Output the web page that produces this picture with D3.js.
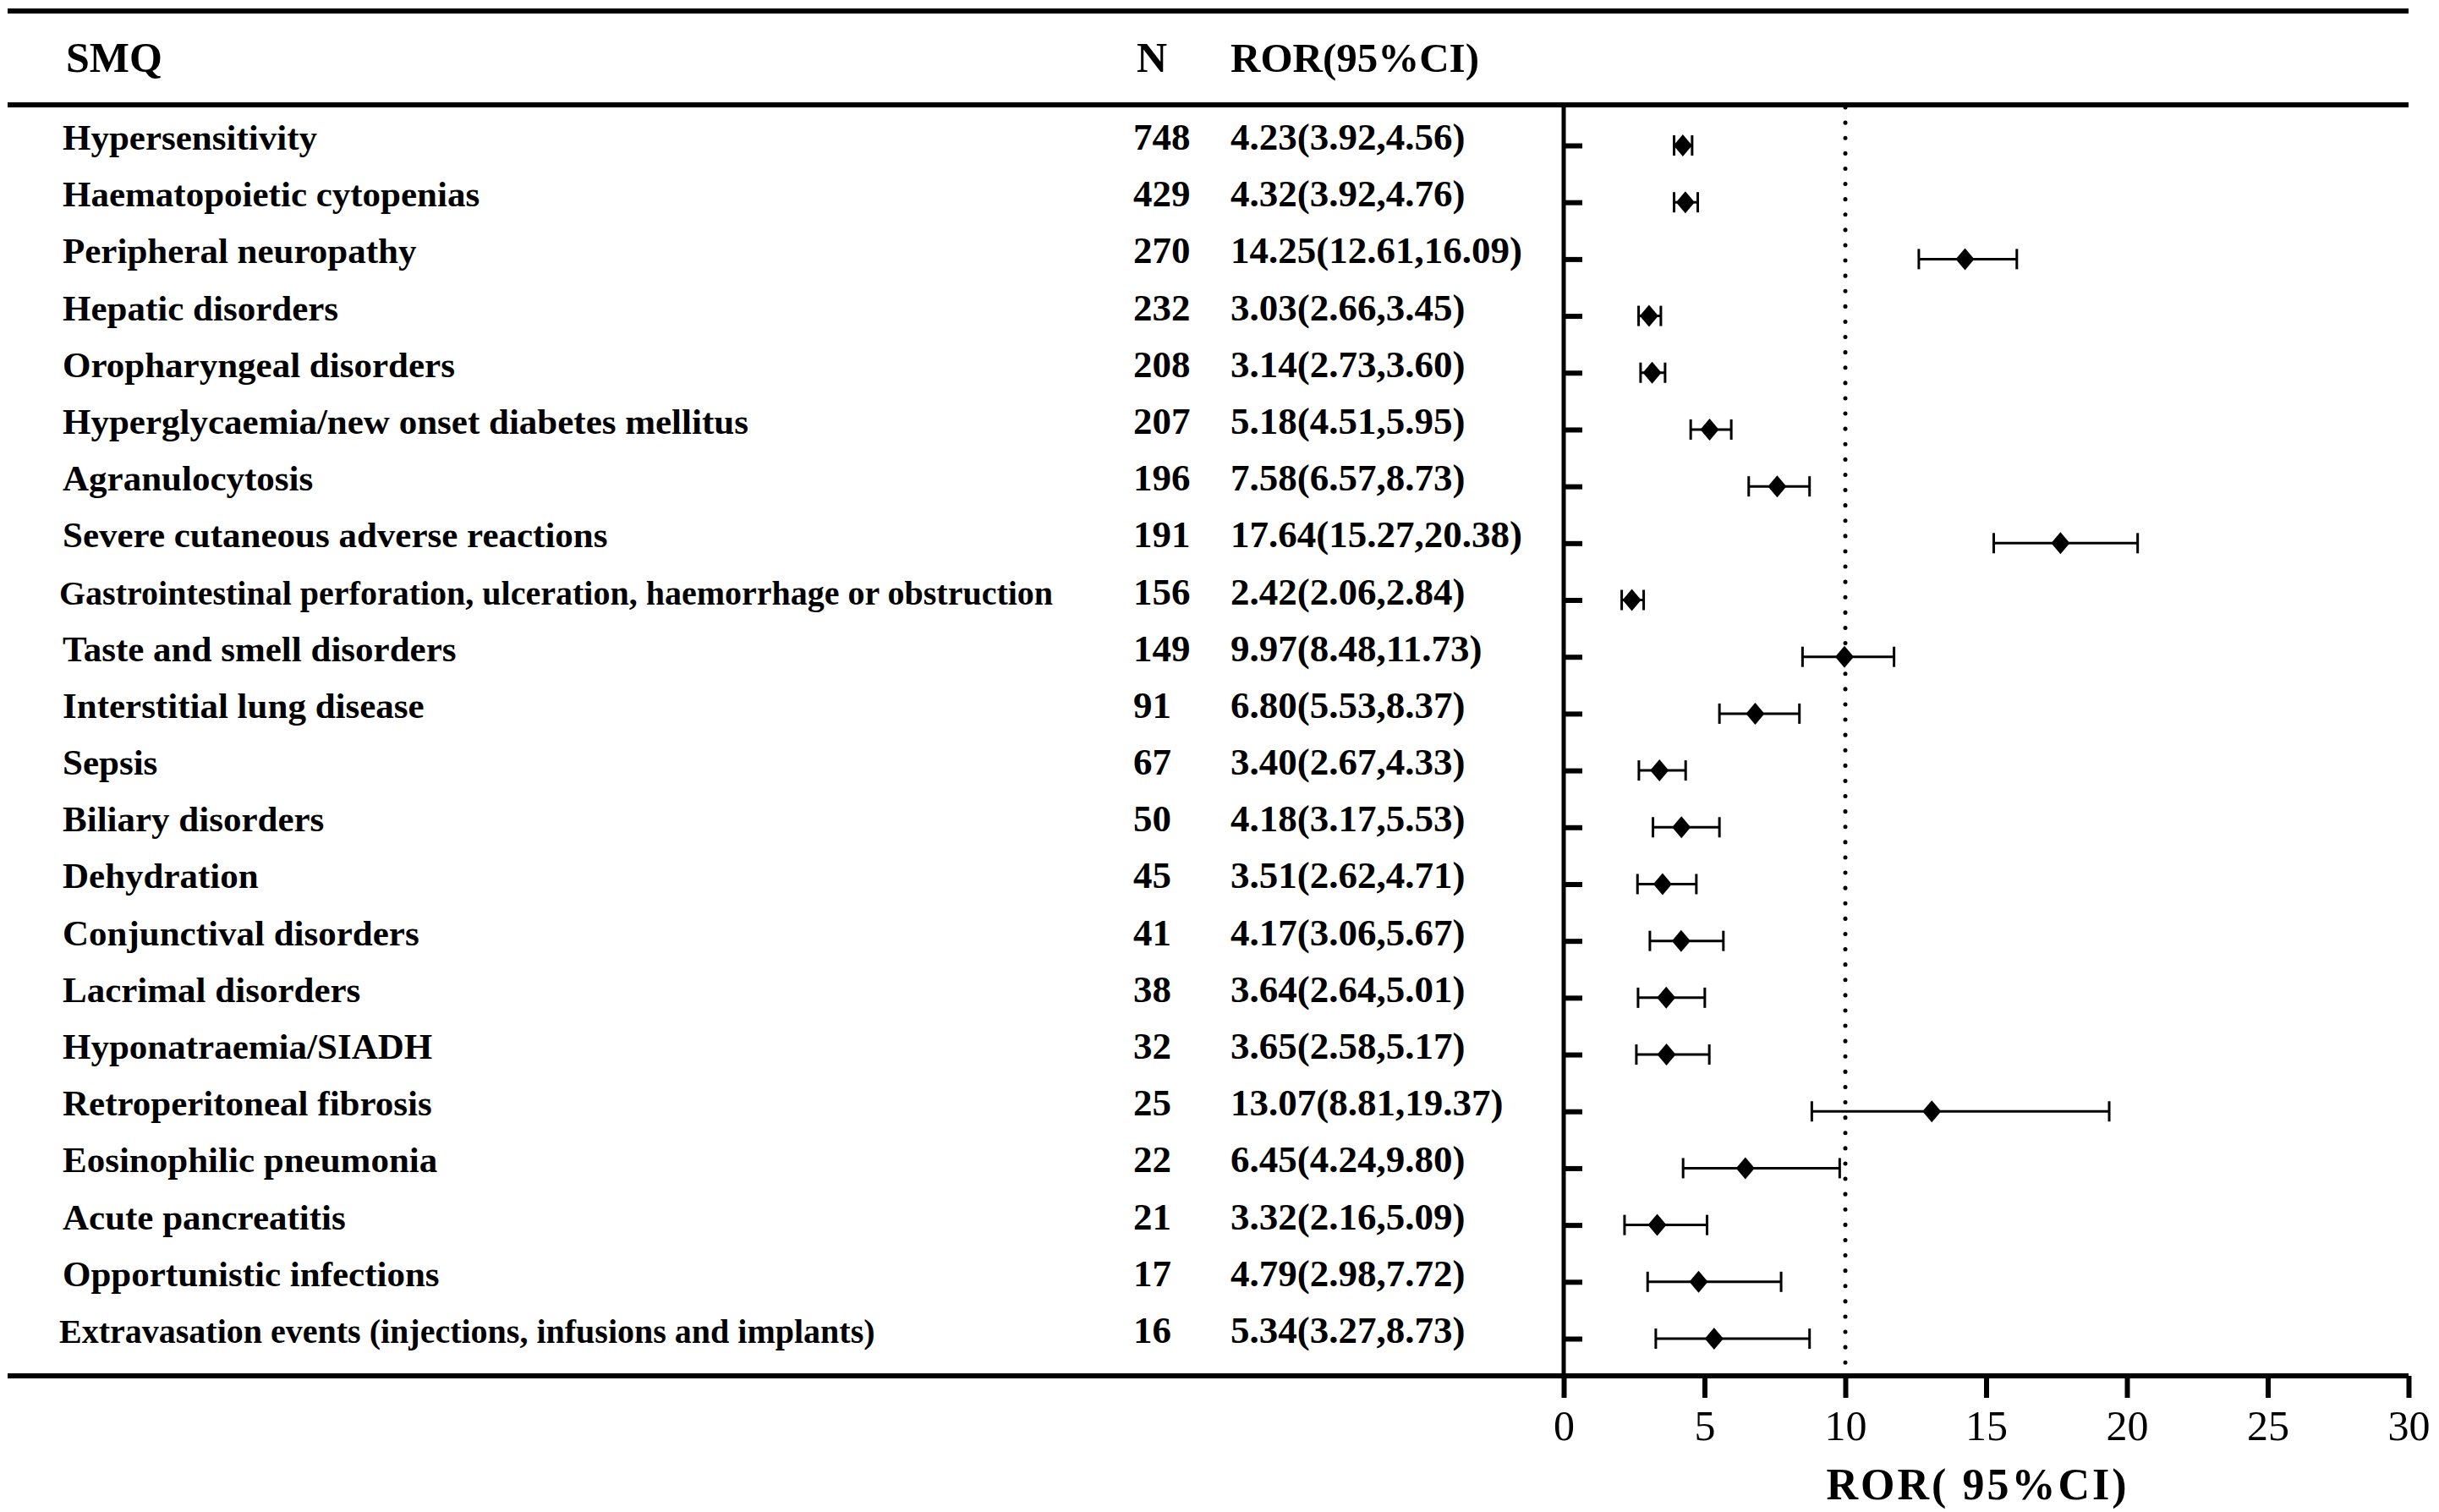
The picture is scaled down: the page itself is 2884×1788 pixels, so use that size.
<!DOCTYPE html>
<html>
<head>
<meta charset="utf-8">
<script src="https://cdn.jsdelivr.net/npm/d3@7"></script>
<style>
    body { margin: 0; background: #fff; }
    text { font-family: "Liberation Serif", "Times New Roman", serif; fill: #000; }
</style>
</head>
<body>
<div id="chart"></div>
<script>
// SMQ rows, top to bottom
const smq = [
    "Hypersensitivity",
    "Haematopoietic cytopenias",
    "Peripheral neuropathy",
    "Hepatic disorders",
    "Oropharyngeal disorders",
    "Hyperglycaemia/new onset diabetes mellitus",
    "Agranulocytosis",
    "Severe cutaneous adverse reactions",
    "Gastrointestinal perforation, ulceration, haemorrhage or obstruction",
    "Taste and smell disorders",
    "Interstitial lung disease",
    "Sepsis",
    "Biliary disorders",
    "Dehydration",
    "Conjunctival disorders",
    "Lacrimal disorders",
    "Hyponatraemia/SIADH",
    "Retroperitoneal fibrosis",
    "Eosinophilic pneumonia",
    "Acute pancreatitis",
    "Opportunistic infections",
    "Extravasation events (injections, infusions and implants)"
];
const counts = [748, 429, 270, 232, 208, 207, 196, 191, 156, 149, 91, 67, 50, 45, 41, 38, 32, 25, 22, 21, 17, 16];
const ror = [4.23, 4.32, 14.25, 3.03, 3.14, 5.18, 7.58, 17.64, 2.42, 9.97, 6.80, 3.40, 4.18, 3.51, 4.17, 3.64, 3.65, 13.07, 6.45, 3.32, 4.79, 5.34];
const lower = [3.92, 3.92, 12.61, 2.66, 2.73, 4.51, 6.57, 15.27, 2.06, 8.48, 5.53, 2.67, 3.17, 2.62, 3.06, 2.64, 2.58, 8.81, 4.24, 2.16, 2.98, 3.27];
const upper = [4.56, 4.76, 16.09, 3.45, 3.60, 5.95, 8.73, 20.38, 2.84, 11.73, 8.37, 4.33, 5.53, 4.71, 5.67, 5.01, 5.17, 19.37, 9.80, 5.09, 7.72, 8.73];
const xTicks = [0, 5, 10, 15, 20, 25, 30];
const refLine = 10;
const headers = ["SMQ", "N", "ROR(95%CI)"];
const xTitle = "ROR( 95%CI)";

// labels that got cut off by the table column in the original
const truncated = new Set(["Hyperglycaemia/new onset diabetes mellitus"]);
const smallLabels = new Set([
    "Gastrointestinal perforation, ulceration, haemorrhage or obstruction",
    "Extravasation events (injections, infusions and implants)"
]);

const W = 2884, H = 1788;
const tableLeft = 9, tableRight = 2848;
const topRule = 13, headRule = 124, bottomRule = 1627;
const plotLeft = 1849, plotRight = 2848;
const colLabel = 74, colN = 1340, colRor = 1455;

const rows = smq.map((name, i) => ({
    name, n: counts[i], ror: ror[i], lo: lower[i], hi: upper[i]
}));

const svg = d3.select("#chart").append("svg")
    .attr("width", W).attr("height", H);

const x = d3.scaleLinear().domain([0, 30]).range([plotLeft, plotRight]);
const y = d3.scalePoint().domain(smq).range([172, 1583]);

// horizontal rules of the table
[topRule, headRule, bottomRule].forEach(yy => {
    svg.append("line")
        .attr("x1", tableLeft).attr("x2", tableRight)
        .attr("y1", yy).attr("y2", yy)
        .attr("stroke", "#000").attr("stroke-width", 6);
});

// header
const headY = 85;
svg.append("text").attr("x", 78).attr("y", headY)
    .attr("font-size", 50).attr("font-weight", "bold").text(headers[0]);
svg.append("text").attr("x", 1344).attr("y", headY)
    .attr("font-size", 50).attr("font-weight", "bold").text(headers[1]);
svg.append("text").attr("x", colRor).attr("y", headY)
    .attr("font-size", 49).attr("font-weight", "bold").text(headers[2]);

// clip for truncated labels
svg.append("clipPath").attr("id", "labelClip")
    .append("rect").attr("x", 0).attr("y", 0).attr("width", 887).attr("height", H);

const fmt = d3.format(".2f");
const rowG = svg.append("g").selectAll("g").data(rows).enter().append("g");

rowG.append("text")
    .attr("x", d => smallLabels.has(d.name) ? colLabel - 4 : colLabel)
    .attr("y", d => y(d.name) + 5)
    .attr("font-size", d => smallLabels.has(d.name) ? 40 : 43)
    .attr("font-weight", "bold")
    .attr("clip-path", d => truncated.has(d.name) ? "url(#labelClip)" : null)
    .text(d => d.name);

rowG.append("text")
    .attr("x", colN).attr("y", d => y(d.name) + 5)
    .attr("font-size", 45).attr("font-weight", "bold")
    .text(d => d.n);

rowG.append("text")
    .attr("x", colRor).attr("y", d => y(d.name) + 5)
    .attr("font-size", 45).attr("font-weight", "bold")
    .text(d => `${fmt(d.ror)}(${fmt(d.lo)},${fmt(d.hi)})`);

// reference line at ROR = 10
svg.append("line")
    .attr("x1", x(refLine)).attr("x2", x(refLine))
    .attr("y1", headRule + 3).attr("y2", bottomRule)
    .attr("stroke", "#000").attr("stroke-width", 5)
    .attr("stroke-linecap", "round")
    .attr("stroke-dasharray", "0.1,18");

// y axis with ticks pointing right
const yAxis = svg.append("g")
    .attr("transform", `translate(${plotLeft},0)`)
    .call(d3.axisRight(y).tickSize(22).tickSizeOuter(0).tickFormat(""));
yAxis.select(".domain").remove();
yAxis.selectAll(".tick line").attr("stroke-width", 6);
svg.append("line")
    .attr("x1", plotLeft).attr("x2", plotLeft)
    .attr("y1", headRule).attr("y2", bottomRule)
    .attr("stroke", "#000").attr("stroke-width", 5);

// x axis
const xAxis = svg.append("g")
    .attr("transform", `translate(0,${bottomRule})`)
    .call(d3.axisBottom(x).tickValues(xTicks).tickSize(26).tickSizeOuter(0).tickPadding(14));
xAxis.select(".domain").remove();
xAxis.selectAll(".tick line").attr("stroke-width", 6);
xAxis.selectAll(".tick text")
    .attr("font-size", 50)
    .attr("font-family", "Liberation Serif, serif")
    .attr("fill", "#000");

svg.append("text")
    .attr("x", x(14.7)).attr("y", 1773)
    .attr("text-anchor", "middle")
    .attr("font-size", 52).attr("font-weight", "bold")
    .attr("letter-spacing", 3)
    .text(xTitle);

// error bars
const cap = 12;
const marks = svg.append("g").selectAll("g").data(rows).enter().append("g");
marks.append("line")
    .attr("x1", d => x(d.lo)).attr("x2", d => x(d.hi))
    .attr("y1", d => y(d.name)).attr("y2", d => y(d.name))
    .attr("stroke", "#000").attr("stroke-width", 3);
marks.append("line")
    .attr("x1", d => x(d.lo)).attr("x2", d => x(d.lo))
    .attr("y1", d => y(d.name) - cap).attr("y2", d => y(d.name) + cap)
    .attr("stroke", "#000").attr("stroke-width", 3);
marks.append("line")
    .attr("x1", d => x(d.hi)).attr("x2", d => x(d.hi))
    .attr("y1", d => y(d.name) - cap).attr("y2", d => y(d.name) + cap)
    .attr("stroke", "#000").attr("stroke-width", 3);

// diamonds, a bit taller than wide
marks.append("path")
    .attr("transform", d => `translate(${x(d.ror)},${y(d.name)})`)
    .attr("d", "M0,-13L11,0L0,13L-11,0Z")
    .attr("fill", "#000");
</script>
</body>
</html>
